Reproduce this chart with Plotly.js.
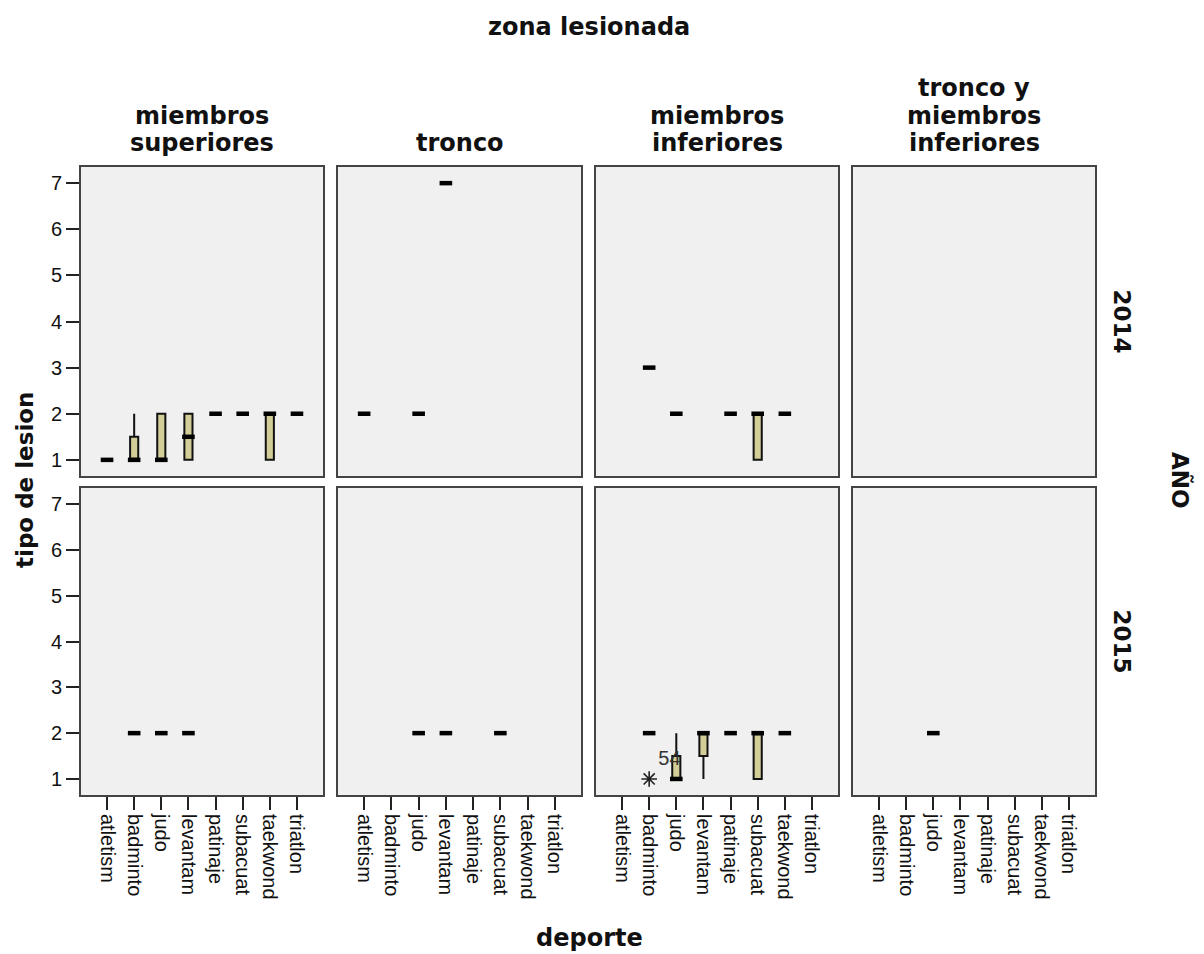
<!DOCTYPE html>
<html>
<head>
<meta charset="utf-8">
<script src="https://cdn.plot.ly/plotly-3.0.1.min.js"></script>
<style>html,body{margin:0;padding:0;background:#fff;}#chart{width:1204px;height:954px;}</style>
</head>
<body>
<div id="chart"></div>
<script>
// ---------- data ----------
const sports = ['atletism','badminto','judo','levantam','patinaje','subacuat','taekwond','triatlon'];
const zoneLines = [['miembros','superiores'],['tronco'],['miembros','inferiores'],['tronco y','miembros','inferiores']];
const years = ['2014','2015'];
const yTicks = [1,2,3,4,5,6,7];

// miembros superiores, 2014
const sup14Sport = ['atletism','badminto','judo','levantam','patinaje','subacuat','taekwond','triatlon'];
const sup14Q1  = [1, 1,   1, 1,   2, 2, 1, 2];
const sup14Med = [1, 1,   1, 1.5, 2, 2, 2, 2];
const sup14Q3  = [1, 1.5, 2, 2,   2, 2, 2, 2];
const sup14Lo  = [1, 1,   1, 1,   2, 2, 1, 2];
const sup14Hi  = [1, 2,   2, 2,   2, 2, 2, 2];

// tronco, 2014
const tro14Sport = ['atletism','judo','levantam'];
const tro14Q1  = [2, 2, 7];
const tro14Med = [2, 2, 7];
const tro14Q3  = [2, 2, 7];
const tro14Lo  = [2, 2, 7];
const tro14Hi  = [2, 2, 7];

// miembros inferiores, 2014
const inf14Sport = ['badminto','judo','patinaje','subacuat','taekwond'];
const inf14Q1  = [3, 2, 2, 1, 2];
const inf14Med = [3, 2, 2, 2, 2];
const inf14Q3  = [3, 2, 2, 2, 2];
const inf14Lo  = [3, 2, 2, 1, 2];
const inf14Hi  = [3, 2, 2, 2, 2];

// tronco y miembros inferiores, 2014: no cases
const tmi14Sport = [];
const tmi14Q1 = [], tmi14Med = [], tmi14Q3 = [], tmi14Lo = [], tmi14Hi = [];

// miembros superiores, 2015
const sup15Sport = ['badminto','judo','levantam'];
const sup15Q1  = [2, 2, 2];
const sup15Med = [2, 2, 2];
const sup15Q3  = [2, 2, 2];
const sup15Lo  = [2, 2, 2];
const sup15Hi  = [2, 2, 2];

// tronco, 2015
const tro15Sport = ['judo','levantam','subacuat'];
const tro15Q1  = [2, 2, 2];
const tro15Med = [2, 2, 2];
const tro15Q3  = [2, 2, 2];
const tro15Lo  = [2, 2, 2];
const tro15Hi  = [2, 2, 2];

// miembros inferiores, 2015
const inf15Sport = ['badminto','judo','levantam','patinaje','subacuat','taekwond'];
const inf15Q1  = [2, 1,   1.5, 2, 1, 2];
const inf15Med = [2, 1,   2,   2, 2, 2];
const inf15Q3  = [2, 1.5, 2,   2, 2, 2];
const inf15Lo  = [2, 1,   1,   2, 1, 2];
const inf15Hi  = [2, 2,   2,   2, 2, 2];
const inf15OutSport = ['badminto'];
const inf15OutVal   = [1];
const inf15OutLabel = ['54'];

// tronco y miembros inferiores, 2015
const tmi15Sport = ['judo'];
const tmi15Q1  = [2];
const tmi15Med = [2];
const tmi15Q3  = [2];
const tmi15Lo  = [2];
const tmi15Hi  = [2];

// ---------- layout helpers ----------
const W = 1204, H = 954;
const px = v => v / W;
const py = v => 1 - v / H;
const colPx = [[81,323],[338,581],[596,838],[853,1095]];
const rowPx = [[167,476],[488,795]];

const BOXFILL = '#d3ce97';
const tickFont = {family: 'Liberation Sans, Arial, sans-serif', size: 20, color: '#111'};
const boldFont = {family: 'DejaVu Sans, Verdana, sans-serif', size: 24, color: '#111', weight: 'bold'};
const boldFontSm = {family: 'DejaVu Sans, Verdana, sans-serif', size: 23, color: '#111', weight: 'bold'};

function axName(i, letter){ return letter + (i === 1 ? '' : i); }

const traces = [];
function addPanel(row, col, sp, q1, med, q3, lo, hi){
  const i = row*4 + col + 1;
  if (sp.length === 0){
    traces.push({type: 'scatter', mode: 'markers', x: [], y: [],
      xaxis: axName(i,'x'), yaxis: axName(i,'y'), showlegend: false, hoverinfo: 'skip'});
    return;
  }
  traces.push({
    type: 'box', x: sp, q1: q1, median: med, q3: q3, lowerfence: lo, upperfence: hi,
    boxpoints: false, width: 0.3, whiskerwidth: 0,
    fillcolor: BOXFILL, line: {color: '#111', width: 2},
    xaxis: axName(i,'x'), yaxis: axName(i,'y'), showlegend: false, hoverinfo: 'skip'
  });
  traces.push({
    type: 'scatter', mode: 'markers', x: sp, y: med,
    marker: {symbol: 'line-ew', size: 9, color: '#000', line: {color: '#000', width: 4.5}},
    xaxis: axName(i,'x'), yaxis: axName(i,'y'), showlegend: false, hoverinfo: 'skip'
  });
}

addPanel(0,0, sup14Sport, sup14Q1, sup14Med, sup14Q3, sup14Lo, sup14Hi);
addPanel(0,1, tro14Sport, tro14Q1, tro14Med, tro14Q3, tro14Lo, tro14Hi);
addPanel(0,2, inf14Sport, inf14Q1, inf14Med, inf14Q3, inf14Lo, inf14Hi);
addPanel(0,3, tmi14Sport, tmi14Q1, tmi14Med, tmi14Q3, tmi14Lo, tmi14Hi);
addPanel(1,0, sup15Sport, sup15Q1, sup15Med, sup15Q3, sup15Lo, sup15Hi);
addPanel(1,1, tro15Sport, tro15Q1, tro15Med, tro15Q3, tro15Lo, tro15Hi);
addPanel(1,2, inf15Sport, inf15Q1, inf15Med, inf15Q3, inf15Lo, inf15Hi);
addPanel(1,3, tmi15Sport, tmi15Q1, tmi15Med, tmi15Q3, tmi15Lo, tmi15Hi);

// outlier (extreme) in miembros inferiores 2015
traces.push({
  type: 'scatter', mode: 'markers+text', x: inf15OutSport, y: inf15OutVal,
  text: inf15OutLabel, textposition: 'top right',
  textfont: {family: 'Liberation Sans, Arial, sans-serif', size: 20, color: '#333'},
  marker: {symbol: 'asterisk-open', size: 13, color: '#222', line: {color: '#222', width: 1.6}},
  xaxis: 'x7', yaxis: 'y7', showlegend: false, hoverinfo: 'skip', cliponaxis: false
});

const layout = {
  width: W, height: H,
  margin: {l: 0, r: 0, t: 0, b: 0},
  paper_bgcolor: '#ffffff', plot_bgcolor: '#f0f0f0',
  showlegend: false,
  annotations: [], font: tickFont
};

for (let row = 0; row < 2; row++){
  for (let col = 0; col < 4; col++){
    const i = row*4 + col + 1;
    const xk = i === 1 ? 'xaxis' : 'xaxis' + i;
    const yk = i === 1 ? 'yaxis' : 'yaxis' + i;
    layout[xk] = {
      domain: [px(colPx[col][0]), px(colPx[col][1])],
      anchor: axName(i,'y'),
      type: 'category', categoryorder: 'array', categoryarray: sports,
      tickmode: 'array', tickvals: sports, ticktext: sports,
      range: [-0.96, 7.96],
      showgrid: false, zeroline: false,
      showline: true, mirror: true, linecolor: '#444', linewidth: 2,
      ticks: row === 1 ? 'outside' : '', ticklen: 13, tickwidth: 2, tickcolor: '#222',
      showticklabels: row === 1, tickangle: 90, tickfont: tickFont,
      fixedrange: true
    };
    layout[yk] = {
      domain: [py(rowPx[row][1]), py(rowPx[row][0])],
      anchor: axName(i,'x'),
      range: [0.65, 7.35],
      tickmode: 'array', tickvals: yTicks, ticktext: yTicks.map(String),
      showgrid: false, zeroline: false,
      showline: true, mirror: true, linecolor: '#444', linewidth: 2,
      ticks: col === 0 ? 'outside' : '', ticklen: 13, tickwidth: 2, tickcolor: '#222',
      showticklabels: col === 0, tickfont: tickFont,
      fixedrange: true
    };
  }
}

// column headers, one annotation per line (bottom line centred at y=143, 27.5px spacing)
zoneLines.forEach((lines, c) => {
  lines.forEach((ln, k) => {
    const yc = 143 - (lines.length - 1 - k) * 27.5;
    layout.annotations.push({
      text: ln, xref: 'paper', yref: 'paper',
      x: px((colPx[c][0] + colPx[c][1]) / 2), y: py(yc),
      xanchor: 'center', yanchor: 'middle', showarrow: false, font: boldFont
    });
  });
});
// row headers
years.forEach((yr, r) => {
  layout.annotations.push({
    text: yr, xref: 'paper', yref: 'paper',
    x: px(1122), y: py((rowPx[r][0] + rowPx[r][1]) / 2),
    xanchor: 'center', yanchor: 'middle', textangle: 90, showarrow: false, font: boldFontSm
  });
});
layout.annotations.push(
  {text: 'zona lesionada', xref: 'paper', yref: 'paper', x: px(589), y: py(27),
   xanchor: 'center', yanchor: 'middle', showarrow: false, font: boldFont},
  {text: 'deporte', xref: 'paper', yref: 'paper', x: px(589), y: py(938),
   xanchor: 'center', yanchor: 'middle', showarrow: false, font: boldFont},
  {text: 'tipo de lesion', xref: 'paper', yref: 'paper', x: px(25), y: py(480),
   xanchor: 'center', yanchor: 'middle', textangle: -90, showarrow: false, font: boldFontSm},
  {text: 'AÑO', xref: 'paper', yref: 'paper', x: px(1181), y: py(480),
   xanchor: 'center', yanchor: 'middle', textangle: 90, showarrow: false, font: boldFontSm}
);

Plotly.newPlot('chart', traces, layout, {staticPlot: true, displayModeBar: false});
</script>
</body>
</html>
